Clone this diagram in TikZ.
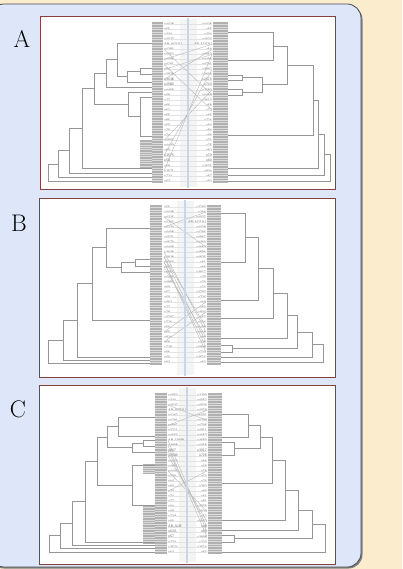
\documentclass[tikz,border=0pt]{standalone}
\usetikzlibrary{calc}

\definecolor{sand}{RGB}{251,236,205}
\definecolor{panelblue}{RGB}{221,231,249}
\definecolor{frame}{RGB}{135,62,62}
\definecolor{colgray}{RGB}{176,176,176}
\definecolor{treegray}{RGB}{150,150,150}
\definecolor{midline}{RGB}{200,214,234}

\tikzset{
  tree/.style={draw=treegray, line width=0.7pt},
  conn/.style={draw=gray!22, line width=0.35pt},
  cross/.style={draw=gray!55, line width=0.4pt},
  lbl/.style={font=\fontsize{3.6}{4}\selectfont\sffamily, text=black!60, inner sep=0pt},
  plate/.style={fill=white, draw=frame, line width=0.9pt},
  letter/.style={font=\fontsize{24}{24}\selectfont, inner sep=0pt},
  axisline/.style={draw=midline, line width=2.6pt},
  band/.style={fill=gray!9},
}

% a leaf position of a dendrogram
\newcommand\tipat[3]{\coordinate (#1) at (#2,#3);}
% merge two children at horizontal position #4, new node #1 at their mid height
\newcommand\joinpair[4]{%
  \path let \p1=(#2), \p2=(#3) in (#4pt,{0.5*\y1+0.5*\y2}) coordinate (#1);
  \draw[tree] (#2) -- (#2 -| #1) -- (#3 -| #1) -- (#3);}
% striped block of densely packed leaf branches: x1 x2 y1 y2 count
\newcommand\stripes[5]{%
  \fill[colgray] (#1,#3) rectangle (#2,#4);
  \foreach \k in {1,...,#5}
    \draw[white, opacity=0.55, line width=0.25pt] (#1,{#3+\k*(#4-#3)/(#5+1)}) -- (#2,{#3+\k*(#4-#3)/(#5+1)});}

\begin{document}
\begin{tikzpicture}[x=1pt,y=-1pt]
\useasboundingbox (0,0) rectangle (402,569);
\fill[sand] (0,0) rectangle (402,569);

% rounded panel with a soft drop edge
\fill[black!50, rounded corners=14pt] (-10,5.5) rectangle (362.5,568.5);
\filldraw[fill=panelblue, draw=black!70, line width=0.8pt, rounded corners=14pt] (-10,4) rectangle (361,567);

% ================= panel A =================
\draw[plate] (40,16) rectangle (335,189);
\node[letter] (labA) at (22,39) {A};
\fill[band] (180,19) rectangle (197,187);
\foreach \t [count=\i] in {n4428,n55,n334,n4027,AB-AC01U,n4283,n4052,n4498,n4791,n54,n2828,n3638,n2580,n4458,n58,n77,n65,n57,n65,n85,n59,n70,n74,n4801,n4430,n60,n3575,n58,n68,n3571,n723,n63}
  \node[lbl, anchor=west] (aLt\i) at (164,{24+(\i-1)*5.065}) {\t};
\foreach \t [count=\i] in {n4428,n55,n334,n4027,AB-AC01U,n54,n4052,n4498,n4791,n3867,n3638,n2574,n723,n2580,n4458,n3513,n58,n77,n65,n724,n64,n84,n66,n71,n75,n62,n79,n60,n3575,n824,n57,n63}
  \node[lbl, anchor=east] (aRt\i) at (212,{24+(\i-1)*5.065}) {\t};
\foreach \i in {1,...,32} \draw[conn] (aLt\i.west) -- (aRt\i.east);
\foreach \a/\b in {6/15,8/5,9/18,10/7,12/6,30/7,27/10,24/14}
  \draw[cross] (aLt\a.west) -- (aRt\b.east);
\draw[axisline] (188,18) -- (188,188);
\stripes{152}{163}{22}{183}{63}
\stripes{213}{228}{22}{183}{63}
\stripes{140}{152}{140}{168}{11}

\tipat{aL1}{152}{43}\tipat{aL2}{152}{68}\tipat{aL3}{152}{74}\tipat{aL4}{152}{82}
\tipat{aL5}{152}{87}\tipat{aL6}{152}{92}\tipat{aL7}{152}{97}\tipat{aL8}{152}{136}
\tipat{aL9}{152}{168}\tipat{aL10}{152}{173}\tipat{aL11}{152}{177}\tipat{aL12}{152}{181}
\joinpair{aLn1}{aL2}{aL3}{140}
\joinpair{aLn2}{aLn1}{aL4}{127}
\joinpair{aLn3}{aL1}{aLn2}{117}
\joinpair{aLn4}{aLn3}{aL5}{106}
\joinpair{aLn5}{aL7}{aL8}{140}
\joinpair{aLn6}{aL6}{aLn5}{128}
\joinpair{aLn7}{aLn4}{aLn6}{94}
\joinpair{aLn8}{aLn7}{aL9}{82}
\joinpair{aLn9}{aLn8}{aL10}{69}
\joinpair{aLn10}{aLn9}{aL11}{58}
\joinpair{aLn11}{aLn10}{aL12}{48}

\tipat{aR1}{228}{32}\tipat{aR2}{228}{60}\tipat{aR3}{228}{75}\tipat{aR4}{228}{80}
\tipat{aR5}{228}{89}\tipat{aR6}{228}{95}\tipat{aR7}{228}{135}\tipat{aR8}{228}{168}
\tipat{aR9}{228}{175}\tipat{aR10}{228}{181}
\joinpair{aRn1}{aR1}{aR2}{273}
\joinpair{aRn2}{aR3}{aR4}{242}
\joinpair{aRn3}{aR5}{aR6}{242}
\joinpair{aRn4}{aRn2}{aRn3}{262}
\joinpair{aRn5}{aRn1}{aRn4}{287}
\joinpair{aRn6}{aRn5}{aR7}{313}
\joinpair{aRn7}{aRn6}{aR8}{318}
\joinpair{aRn8}{aRn7}{aR9}{324}
\joinpair{aRn9}{aRn8}{aR10}{330}

% ================= panel B =================
\draw[plate] (39,198) rectangle (335,377);
\node[letter] (labB) at (19,223) {B};
\fill[band] (177,201) rectangle (194,375);
\foreach \t [count=\i] in {n55,n4438,n4325,n4267,n4730,n4498,n4971,n4579,n4448,n3638,n2828,n2356,n867,n4057,n4455,n4881,n60,n57,n59,n362,n77,n78,n3797,n726,n59,n60,n824,n58,n729,n65,n66,n63}
  \node[lbl, anchor=west] (bLt\i) at (164,{207+(\i-1)*5.0}) {\t};
\foreach \t [count=\i] in {n2790,n334,n4027,AB-AC01U,n4428,n4795,n4867,n4369,n4657,n4805,n4825,n61,n66,n3917,n79,n76,n74,n3797,n726,n69,n60,n824,n57,n724,n4498,n4448,n65,n328,n3898,n723,n2574,n63}
  \node[lbl, anchor=east] (bRt\i) at (206,{207+(\i-1)*5.0}) {\t};
\foreach \i in {1,...,32} \draw[conn] (bLt\i.west) -- (bRt\i.east);
\foreach \a/\b in {10/26,11/28,12/29,13/27,12/30,11/25,26/20,28/22,3/9,5/2}
  \draw[cross] (bLt\a.west) -- (bRt\b.east);
\draw[axisline] (185,200) -- (185,376);
\stripes{150}{162}{205}{365}{63}
\stripes{207}{221}{205}{365}{63}

\tipat{bL1}{150}{228}\tipat{bL2}{150}{259}\tipat{bL3}{150}{266}\tipat{bL4}{150}{272}
\tipat{bL5}{150}{320}\tipat{bL6}{150}{357}\tipat{bL7}{150}{360}\tipat{bL8}{150}{363}
\joinpair{bLn1}{bL2}{bL3}{135}
\joinpair{bLn2}{bLn1}{bL4}{121}
\joinpair{bLn3}{bL1}{bLn2}{106}
\joinpair{bLn4}{bLn3}{bL5}{92}
\joinpair{bLn5}{bLn4}{bL6}{77}
\joinpair{bLn6}{bLn5}{bL7}{63}
\joinpair{bLn7}{bLn6}{bL8}{48}

\tipat{bR1}{221}{213}\tipat{bR2}{221}{262}\tipat{bR3}{221}{300}\tipat{bR4}{221}{318}
\tipat{bR5}{221}{345}\tipat{bR6}{221}{352}\tipat{bR7}{221}{338}\tipat{bR8}{221}{357}
\tipat{bR9}{221}{362}
\joinpair{bRn1}{bR1}{bR2}{245}
\joinpair{bRn2}{bRn1}{bR3}{258}
\joinpair{bRn3}{bRn2}{bR4}{273}
\joinpair{bRn4}{bR5}{bR6}{232}
\joinpair{bRn5}{bRn3}{bR7}{287}
\joinpair{bRn6}{bRn5}{bRn4}{297}
\joinpair{bRn7}{bRn6}{bR8}{312}
\joinpair{bRn8}{bRn7}{bR9}{323}

% ================= panel C =================
\draw[plate] (39,385) rectangle (335,564);
\node[letter] (labC) at (18,409) {C};
\fill[band] (179,388) rectangle (196,562);
\foreach \t [count=\i] in {n4052,n334,n4027,AB-AC01U,n4267,n4791,n4867,n3711,n4653,AB-13598,n3898,n867,n3580,n4458,n4881,n4495,n729,n64,n59,n70,n74,n77,n64,n68,n72A,n60,AB-A1B,n62A,n57,n723,n2574,n63}
  \node[lbl, anchor=west] (cLt\i) at (168,{395+(\i-1)*5.065}) {\t};
\foreach \t [count=\i] in {n2790,n4052,n4026,n4079,n5001,n4790,n4795,n4811,n4657,n3580,n4458,n3917,n726,n66,n69,n75,n73,n76,n362,n69,n61,n81,n3275,n624,n57,n4652,n48,n65,n3898,n723,n2574,n63}
  \node[lbl, anchor=east] (cRt\i) at (207,{395+(\i-1)*5.065}) {\t};
\foreach \i in {1,...,32} \draw[conn] (cLt\i.west) -- (cRt\i.east);
\foreach \a/\b in {10/28,11/29,12/27,13/26,16/24,3/6,7/4,20/16}
  \draw[cross] (cLt\a.west) -- (cRt\b.east);
\draw[axisline] (187,387) -- (187,563);
\stripes{155}{167}{393}{554}{63}
\stripes{208}{222}{393}{554}{63}
\stripes{143}{155}{505}{544}{15}
\stripes{143}{155}{464}{474}{4}

\tipat{cL1}{155}{417}\tipat{cL2}{155}{436}\tipat{cL3}{155}{440}\tipat{cL4}{155}{446}
\tipat{cL5}{155}{452}\tipat{cL6}{155}{465}\tipat{cL7}{155}{505}\tipat{cL8}{155}{542}
\tipat{cL9}{155}{545}\tipat{cL10}{155}{548}\tipat{cL11}{155}{552}
\joinpair{cLn1}{cL1}{cL2}{118}
\joinpair{cLn2}{cL3}{cL4}{143}
\joinpair{cLn3}{cLn2}{cL5}{132}
\joinpair{cLn4}{cLn1}{cLn3}{107}
\joinpair{cLn5}{cL6}{cL7}{132}
\joinpair{cLn6}{cLn4}{cLn5}{97}
\joinpair{cLn7}{cLn6}{cL8}{85}
\joinpair{cLn8}{cLn7}{cL9}{72}
\joinpair{cLn9}{cLn8}{cL10}{60}
\joinpair{cLn10}{cLn9}{cL11}{49}

\tipat{cR1}{222}{414}\tipat{cR2}{222}{437}\tipat{cR3}{222}{442}\tipat{cR4}{222}{455}
\tipat{cR5}{222}{483}\tipat{cR6}{222}{520}\tipat{cR7}{222}{530}\tipat{cR8}{222}{535}
\tipat{cR9}{222}{542}\tipat{cR10}{222}{552}
\joinpair{cRn1}{cR1}{cR2}{248}
\joinpair{cRn2}{cR3}{cR4}{234}
\joinpair{cRn3}{cRn1}{cRn2}{260}
\joinpair{cRn4}{cRn3}{cR5}{272}
\joinpair{cRn5}{cRn4}{cR6}{285}
\joinpair{cRn6}{cRn5}{cR7}{298}
\joinpair{cRn7}{cR8}{cR9}{234}
\joinpair{cRn8}{cRn6}{cRn7}{312}
\joinpair{cRn9}{cRn8}{cR10}{325}
\end{tikzpicture}
\end{document}
